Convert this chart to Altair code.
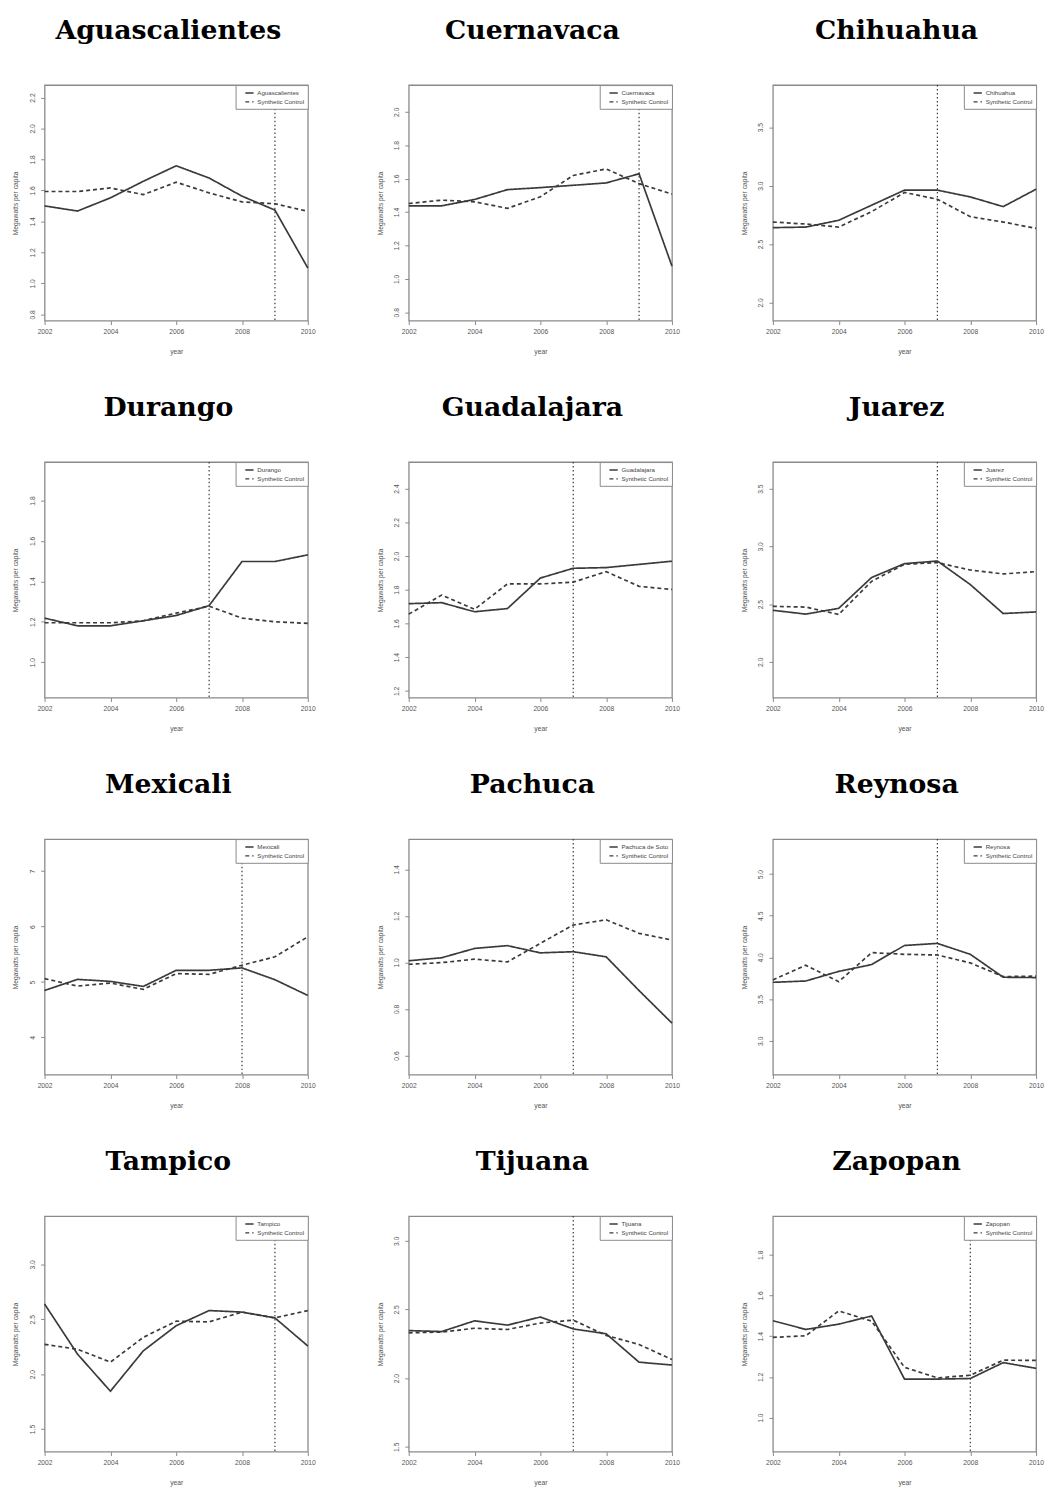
import altair as alt
import pandas as pd

YEARS = [2002, 2003, 2004, 2005, 2006, 2007, 2008, 2009, 2010]
X_TICKS = [2002, 2004, 2006, 2008, 2010]

TITLES = ["Aguascalientes", "Cuernavaca", "Chihuahua",
          "Durango", "Guadalajara", "Juarez",
          "Mexicali", "Pachuca", "Reynosa",
          "Tampico", "Tijuana", "Zapopan"]
LEGEND_NAMES = ["Aguascalientes", "Cuernavaca", "Chihuahua",
                "Durango", "Guadalajara", "Juarez",
                "Mexicali", "Pachuca de Soto", "Reynosa",
                "Tampico", "Tijuana", "Zapopan"]
TREATMENT_YEARS = [2009, 2009, 2007, 2007, 2007, 2007, 2008, 2007, 2007, 2009, 2007, 2008]

AGUASCALIENTES = [1.50, 1.467, 1.552, 1.659, 1.759, 1.680, 1.563, 1.473, 1.099]
AGUASCALIENTES_SYN = [1.593, 1.593, 1.616, 1.573, 1.653, 1.584, 1.526, 1.514, 1.465]
CUERNAVACA = [1.437, 1.437, 1.475, 1.534, 1.546, 1.560, 1.574, 1.629, 1.076]
CUERNAVACA_SYN = [1.451, 1.471, 1.461, 1.422, 1.491, 1.619, 1.658, 1.570, 1.507]
CHIHUAHUA = [2.640, 2.645, 2.703, 2.832, 2.961, 2.961, 2.903, 2.820, 2.969]
CHIHUAHUA_SYN = [2.688, 2.671, 2.645, 2.777, 2.941, 2.883, 2.734, 2.688, 2.634]
DURANGO = [1.218, 1.180, 1.180, 1.205, 1.231, 1.280, 1.498, 1.498, 1.531]
DURANGO_SYN = [1.195, 1.195, 1.195, 1.205, 1.243, 1.277, 1.218, 1.200, 1.192]
GUADALAJARA = [1.717, 1.723, 1.669, 1.688, 1.869, 1.927, 1.931, 1.950, 1.969]
GUADALAJARA_SYN = [1.655, 1.768, 1.684, 1.834, 1.834, 1.845, 1.907, 1.820, 1.801]
JUAREZ = [2.446, 2.413, 2.463, 2.730, 2.850, 2.873, 2.669, 2.418, 2.432]
JUAREZ_SYN = [2.480, 2.474, 2.410, 2.697, 2.845, 2.859, 2.795, 2.761, 2.781]
MEXICALI = [4.848, 5.048, 5.012, 4.921, 5.212, 5.212, 5.255, 5.042, 4.758]
MEXICALI_SYN = [5.061, 4.927, 4.982, 4.867, 5.152, 5.139, 5.303, 5.455, 5.818]
PACHUCA = [1.007, 1.020, 1.060, 1.072, 1.041, 1.046, 1.024, 0.879, 0.739]
PACHUCA_SYN = [0.992, 0.999, 1.014, 1.002, 1.082, 1.161, 1.183, 1.125, 1.096]
REYNOSA = [3.701, 3.717, 3.832, 3.914, 4.143, 4.168, 4.037, 3.762, 3.758]
REYNOSA_SYN = [3.730, 3.906, 3.709, 4.057, 4.037, 4.029, 3.934, 3.770, 3.775]
TAMPICO = [2.638, 2.182, 1.844, 2.212, 2.441, 2.579, 2.565, 2.512, 2.256]
TAMPICO_SYN = [2.271, 2.226, 2.109, 2.335, 2.482, 2.476, 2.565, 2.512, 2.579]
TIJUANA = [2.346, 2.339, 2.417, 2.386, 2.445, 2.358, 2.323, 2.116, 2.095]
TIJUANA_SYN = [2.330, 2.335, 2.363, 2.354, 2.401, 2.422, 2.311, 2.245, 2.135]
ZAPOPAN = [1.476, 1.433, 1.459, 1.499, 1.189, 1.189, 1.192, 1.270, 1.242]
ZAPOPAN_SYN = [1.394, 1.402, 1.524, 1.474, 1.247, 1.195, 1.208, 1.282, 1.281]

ACTUAL = [AGUASCALIENTES, CUERNAVACA, CHIHUAHUA, DURANGO, GUADALAJARA, JUAREZ,
          MEXICALI, PACHUCA, REYNOSA, TAMPICO, TIJUANA, ZAPOPAN]
SYNTH = [AGUASCALIENTES_SYN, CUERNAVACA_SYN, CHIHUAHUA_SYN, DURANGO_SYN, GUADALAJARA_SYN,
         JUAREZ_SYN, MEXICALI_SYN, PACHUCA_SYN, REYNOSA_SYN, TAMPICO_SYN, TIJUANA_SYN, ZAPOPAN_SYN]

Y_DOMAINS = [[0.76, 2.28], [0.75, 2.16], [1.845, 3.86], [0.825, 1.99],
             [1.16, 2.557], [1.69, 3.73], [3.33, 7.58], [0.518, 1.53],
             [2.594, 5.42], [1.294, 3.44], [1.465, 3.18], [0.833, 1.99]]
Y_TICKS = [[0.8, 1.0, 1.2, 1.4, 1.6, 1.8, 2.0, 2.2],
           [0.8, 1.0, 1.2, 1.4, 1.6, 1.8, 2.0],
           [2.0, 2.5, 3.0, 3.5],
           [1.0, 1.2, 1.4, 1.6, 1.8],
           [1.2, 1.4, 1.6, 1.8, 2.0, 2.2, 2.4],
           [2.0, 2.5, 3.0, 3.5],
           [4, 5, 6, 7],
           [0.6, 0.8, 1.0, 1.2, 1.4],
           [3.0, 3.5, 4.0, 4.5, 5.0],
           [1.5, 2.0, 2.5, 3.0],
           [1.5, 2.0, 2.5, 3.0],
           [1.0, 1.2, 1.4, 1.6, 1.8]]
Y_FORMATS = [".1f", ".1f", ".1f", ".1f", ".1f", ".1f", "d", ".1f", ".1f", ".1f", ".1f", ".1f"]

SYN_LABEL = "Synthetic Control"
LINE_COLOR = "#3a3a3a"
AXIS_FONT = "Liberation Sans"


def panel(i):
    name = LEGEND_NAMES[i]
    df = pd.DataFrame({
        "year": YEARS + YEARS,
        "value": ACTUAL[i] + SYNTH[i],
        "series": [name] * len(YEARS) + [SYN_LABEL] * len(YEARS),
    })
    xscale = alt.Scale(domain=[2002, 2010], nice=False, zero=False)
    xaxis = alt.Axis(values=X_TICKS, format="d", title="year", labelAlign="center")
    lines = alt.Chart(df).mark_line(color=LINE_COLOR, strokeWidth=1.7).encode(
        x=alt.X("year:Q", scale=xscale, axis=xaxis),
        y=alt.Y("value:Q",
                scale=alt.Scale(domain=Y_DOMAINS[i], nice=False, zero=False),
                axis=alt.Axis(values=Y_TICKS[i], format=Y_FORMATS[i],
                              title="Megawatts per capita", labelAngle=270,
                              labelAlign="center", labelBaseline="bottom")),
        strokeDash=alt.StrokeDash(
            "series:N", title=None,
            scale=alt.Scale(domain=[name, SYN_LABEL], range=[[1, 0], [4, 3]]),
            legend=alt.Legend(orient="top-right", offset=0)),
    )
    rule = alt.Chart(pd.DataFrame({"year": [TREATMENT_YEARS[i]]})).mark_rule(
        color=LINE_COLOR, strokeWidth=1.2, strokeDash=[1.5, 2.5]
    ).encode(x=alt.X("year:Q", scale=xscale, axis=xaxis))
    return alt.layer(lines, rule).properties(
        width=266, height=238,
        title=alt.TitleParams(TITLES[i], anchor="middle", frame="group",
                              dx=-8, offset=40),
    )


chart = alt.concat(*[panel(i) for i in range(12)], columns=3,
                   spacing={"row": 37, "column": 60}).resolve_scale(
    strokeDash="independent", x="independent", y="independent"
).resolve_legend(strokeDash="independent").properties(
    padding={"left": 4, "top": 0, "right": 0, "bottom": 0}
).configure_view(
    stroke="#8a8a8a", strokeWidth=1.3
).configure_title(
    font="DejaVu Serif", fontSize=27, fontWeight="bold", color="black"
).configure_axis(
    domain=False, grid=False,
    tickColor="#8a8a8a", tickSize=4, tickWidth=1,
    labelFont=AXIS_FONT, labelFontSize=6.8, labelColor="#555",
    titleFont=AXIS_FONT, titleFontSize=6.8, titleColor="#555", titleFontWeight="normal",
).configure_axisX(
    labelPadding=4, titlePadding=13,
).configure_axisY(
    labelPadding=5, titlePadding=11,
).configure_legend(
    strokeColor="#8a8a8a", fillColor="white", padding=3,
    labelFont=AXIS_FONT, labelFontSize=6.2, labelColor="#444",
    symbolType="stroke", symbolSize=70, symbolStrokeWidth=1.3,
    symbolStrokeColor=LINE_COLOR, symbolOffset=6, labelOffset=3, rowPadding=0,
)

chart.save("out.html", embed_options={"renderer": "svg", "actions": False})
